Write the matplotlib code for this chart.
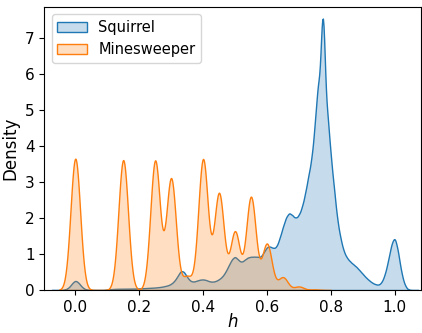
import numpy as np
import matplotlib
matplotlib.use("Agg")
import matplotlib.pyplot as plt
import seaborn as sns

# Minesweeper: discrete h values and relative frequencies
mine_h = [0.00, 0.15, 0.25, 0.30, 0.35, 0.40, 0.45, 0.50, 0.55, 0.60, 0.65, 0.70, 0.75]
mine_w = [3.70, 3.66, 3.64, 3.14, 0.38, 3.68, 2.72, 1.64, 2.62, 1.30, 0.36, 0.10, 0.015]

# Squirrel: density
squirrel_h = [-0.04, -0.03, -0.02, -0.01, 0.00, 0.01, 0.02, 0.03, 0.04, 0.05,
              0.06, 0.07, 0.08, 0.09, 0.10, 0.11, 0.12, 0.13, 0.14, 0.15,
              0.16, 0.17, 0.18, 0.19, 0.20, 0.21, 0.22, 0.23, 0.24, 0.25,
              0.26, 0.27, 0.28, 0.29, 0.30, 0.31, 0.32, 0.33, 0.34, 0.35,
              0.36, 0.37, 0.38, 0.39, 0.40, 0.41, 0.42, 0.43, 0.44, 0.45,
              0.46, 0.47, 0.48, 0.49, 0.50, 0.51, 0.52, 0.53, 0.54, 0.55,
              0.56, 0.57, 0.58, 0.59, 0.60, 0.61, 0.62, 0.63, 0.64, 0.65,
              0.66, 0.67, 0.68, 0.69, 0.70, 0.71, 0.72, 0.73, 0.74, 0.75,
              0.76, 0.77, 0.775, 0.78, 0.79, 0.80, 0.81, 0.82, 0.83, 0.84,
              0.85, 0.86, 0.87, 0.88, 0.89, 0.90, 0.91, 0.92, 0.93, 0.94,
              0.95, 0.96, 0.97, 0.98, 0.99, 1.00, 1.01, 1.02, 1.03, 1.04]
squirrel_d = [0.00, 0.02, 0.07, 0.19, 0.28, 0.21, 0.09, 0.025, 0.005, 0.0,
              0.0, 0.0, 0.0, 0.0, 0.01, 0.025, 0.03, 0.035, 0.036, 0.037,
              0.038, 0.039, 0.04, 0.042, 0.045, 0.05, 0.055, 0.06, 0.065, 0.07,
              0.08, 0.09, 0.11, 0.13, 0.17, 0.25, 0.38, 0.55, 0.52, 0.36,
              0.25, 0.23, 0.26, 0.29, 0.30, 0.28, 0.24, 0.23, 0.25, 0.30,
              0.37, 0.50, 0.68, 0.86, 0.95, 0.84, 0.77, 0.84, 0.91, 0.93,
              0.93, 0.93, 0.91, 1.05, 1.21, 1.22, 1.16, 1.19, 1.45, 1.76,
              2.04, 2.17, 2.08, 1.99, 2.08, 2.31, 2.70, 3.20, 3.65, 4.60,
              5.95, 7.00, 7.25, 6.75, 4.95, 3.70, 2.85, 1.95, 1.45, 1.08,
              0.90, 0.80, 0.72, 0.65, 0.55, 0.45, 0.35, 0.27, 0.20, 0.16,
              0.14, 0.22, 0.45, 0.84, 1.30, 1.52, 1.12, 0.52, 0.16, 0.02]

labels = ["Squirrel", "Minesweeper"]
colors = ["#1f77b4", "#ff7f0e"]

fig = plt.figure(figsize=(4.22, 3.33), dpi=100)
ax = fig.add_axes([0.105, 0.129, 0.893, 0.851])

sq_h = np.array(squirrel_h)
sq_w = np.array(squirrel_d) * np.gradient(sq_h)
sq_bw = 0.006 / np.sqrt(np.cov(sq_h, aweights=sq_w))
sns.kdeplot(x=sq_h, weights=sq_w, bw_method=sq_bw, fill=True, color=colors[0],
            label=labels[0], gridsize=600, ax=ax)

m_h = np.array(mine_h)
m_w = np.array(mine_w)
m_bw = 0.015 / np.sqrt(np.cov(m_h, aweights=m_w))
sns.kdeplot(x=m_h, weights=m_w, bw_method=m_bw, fill=True, color=colors[1],
            label=labels[1], gridsize=600, ax=ax)

ax.set_xlim(-0.097, 1.083)
ax.set_ylim(0, 7.87)
ax.set_xticks([0.0, 0.2, 0.4, 0.6, 0.8, 1.0])
ax.set_yticks(range(0, 8))
ax.tick_params(labelsize=11)
ax.set_xlabel("$h$", fontsize=12, labelpad=-1)
ax.set_ylabel("Density", fontsize=12)
ax.legend(loc="upper left", fontsize=10.5)

fig.savefig("out.png", dpi=100)
